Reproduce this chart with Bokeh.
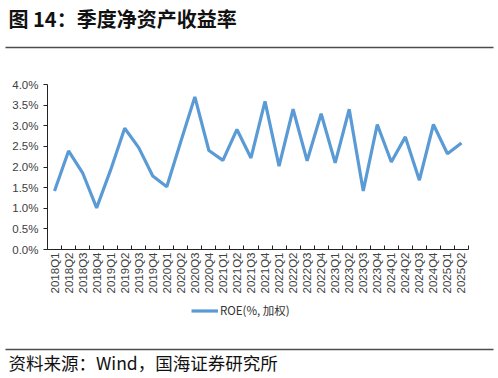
import math
from bokeh.plotting import figure
from bokeh.models import (Range1d, FixedTicker, PrintfTickFormatter, Legend,
                          LegendItem, Label, BoxAnnotation, LinearAxis)
from bokeh.embed import file_html
from bokeh.resources import INLINE

quarters = ["2018Q1", "2018Q2", "2018Q3", "2018Q4",
            "2019Q1", "2019Q2", "2019Q3", "2019Q4",
            "2020Q1", "2020Q2", "2020Q3", "2020Q4",
            "2021Q1", "2021Q2", "2021Q3", "2021Q4",
            "2022Q1", "2022Q2", "2022Q3", "2022Q4",
            "2023Q1", "2023Q2", "2023Q3", "2023Q4",
            "2024Q1", "2024Q2", "2024Q3", "2024Q4",
            "2025Q1", "2025Q2"]
roe = [1.42, 2.39, 1.86, 1.01,
       1.93, 2.94, 2.47, 1.78,
       1.52, 2.62, 3.70, 2.40,
       2.16, 2.91, 2.22, 3.59,
       2.02, 3.40, 2.15, 3.29,
       2.10, 3.40, 1.42, 3.03,
       2.12, 2.73, 1.68, 3.03,
       2.32, 2.58]
y_ticks = [0.0, 0.5, 1.0, 1.5, 2.0, 2.5, 3.0, 3.5, 4.0]
title_text = "图 14：季度净资产收益率"
source_text = "资料来源：Wind，国海证券研究所"
legend_label = "ROE(%, 加权)"

CJK = "Noto Sans CJK SC"
LAT = "Liberation Sans"

# canvas and plotting-area geometry (pixels)
W, H = 498, 378
PL, PR, PT, PB = 47, 468, 84, 249

n = len(quarters)
x_lo, x_hi = -0.5, n - 0.5
y_lo, y_hi = y_ticks[0], y_ticks[-1]
xpp = (x_hi - x_lo) / (PR - PL)
ypp = (y_hi - y_lo) / (PB - PT)
x_range = Range1d(x_lo - PL * xpp, x_hi + (W - PR) * xpp)
y_range = Range1d(y_lo - (H - PB) * ypp, y_hi + PT * ypp)

p = figure(width=W, height=H, x_range=x_range, y_range=y_range,
           x_axis_location=None, y_axis_location=None,
           output_backend="svg", toolbar_location=None,
           min_border=0, outline_line_color=None,
           background_fill_color="white", border_fill_color="white")
p.grid.visible = False

idx = list(range(n))
r = p.line(idx, roe, line_color="#5B9BD5", line_width=3.2)

# x axis (ticks between categories, pointing up)
xa = LinearAxis(fixed_location=y_lo, bounds=(x_lo, x_hi))
xa.ticker = FixedTicker(ticks=idx,
                        minor_ticks=[i - 0.5 for i in range(n + 1)])
xa.major_label_overrides = {i: q for i, q in enumerate(quarters)}
xa.major_label_orientation = math.pi / 2
xa.major_tick_in = 0
xa.major_tick_out = 0
xa.minor_tick_in = 4
xa.minor_tick_out = 0
xa.minor_tick_line_color = "#222222"
xa.axis_line_color = "#222222"
xa.major_label_standoff = 3
xa.major_label_text_font = LAT
xa.major_label_text_font_size = "11.5px"
xa.major_label_text_color = "#404040"
p.add_layout(xa, "below")

# y axis
ya = LinearAxis(fixed_location=x_lo, bounds=(y_lo, y_hi))
ya.ticker = FixedTicker(ticks=y_ticks, minor_ticks=[])
ya.formatter = PrintfTickFormatter(format="%.1f%%")
ya.major_tick_in = 0
ya.major_tick_out = 4
ya.major_tick_line_color = "#222222"
ya.axis_line_color = "#222222"
ya.minor_tick_line_color = None
ya.major_label_standoff = 5
ya.major_label_text_font = LAT
ya.major_label_text_font_size = "11.5px"
ya.major_label_text_color = "#404040"
p.add_layout(ya, "left")

legend = Legend(items=[LegendItem(label=legend_label, renderers=[r])],
                location=(191, H - 318), padding=0, margin=0, spacing=0,
                glyph_width=27, glyph_height=13, label_height=13,
                label_standoff=2, border_line_color=None,
                background_fill_alpha=0,
                label_text_font=CJK, label_text_font_size="11.5px",
                label_text_color="#333333")
p.add_layout(legend, "center")

p.add_layout(Label(x=8, y=H - 18, x_units="screen", y_units="screen",
                   text=title_text, text_font=CJK, text_font_size="20px",
                   text_font_style="bold", text_baseline="middle",
                   text_color="#111111"))
for yline in (47, 349):
    p.add_layout(BoxAnnotation(left=5, right=493,
                               bottom=H - yline - 0.75, top=H - yline + 0.75,
                               left_units="screen", right_units="screen",
                               bottom_units="screen", top_units="screen",
                               fill_color="#4d4d4d", fill_alpha=1,
                               line_color=None))
p.add_layout(Label(x=8, y=H - 362, x_units="screen", y_units="screen",
                   text=source_text, text_font=CJK, text_font_size="17.5px",
                   text_baseline="middle", text_color="#111111"))

open("out.html", "w").write(file_html(p, INLINE))
